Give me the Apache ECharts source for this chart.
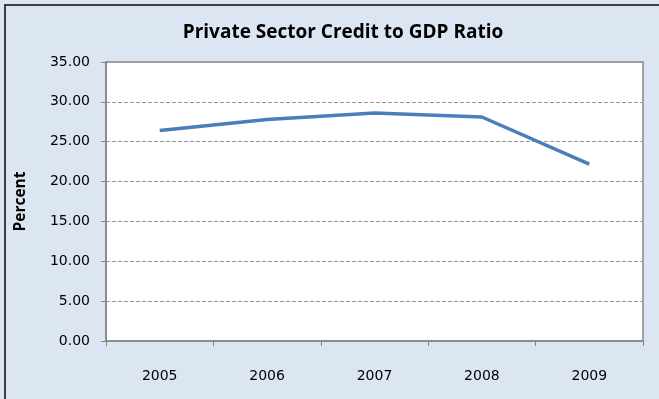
<!DOCTYPE html>
<html>
<head>
<meta charset="utf-8">
<script src="https://cdn.jsdelivr.net/npm/echarts@6/dist/echarts.min.js"></script>
<style>
  html, body { margin: 0; padding: 0; background: #dce6f2; }
  #chart { width: 659px; height: 399px; }
</style>
</head>
<body>
<div id="chart"></div>
<script>
const years = ['2005', '2006', '2007', '2008', '2009']
const ratio = [26.4, 27.8, 28.6, 28.1, 22.2]
const yTicks = { min: 0, max: 35, interval: 5 }

const LABEL_FONT = '"DejaVu Sans", sans-serif'
const TITLE_FONT = '"Open Sans", sans-serif'
const chart = echarts.init(document.getElementById('chart'))

chart.setOption({
  backgroundColor: '#dce6f2',
  animation: false,
  title: {
    text: 'Private Sector Credit to GDP Ratio',
    left: 338,
    textAlign: 'center',
    top: 18,
    textStyle: { fontFamily: TITLE_FONT, fontSize: 19, fontWeight: 'bold', color: '#000' },
  },
  graphic: [
    {
      type: 'rect',
      shape: { x: 5, y: 5, width: 720, height: 460 },
      style: { fill: 'transparent', stroke: '#3f3f3f', lineWidth: 2 },
      silent: true,
    },
  ],
  grid: {
    left: 106, right: 16, top: 62, bottom: 58,
    show: true, backgroundColor: '#fff', borderColor: '#868686', borderWidth: 1.5,
  },
  xAxis: {
    type: 'category',
    data: years,
    boundaryGap: true,
    axisLine: { lineStyle: { color: '#868686', width: 1.5 } },
    axisTick: { show: true, length: 5, lineStyle: { color: '#868686' } },
    axisLabel: { color: '#000', fontFamily: LABEL_FONT, fontSize: 14, margin: 28 },
  },
  yAxis: {
    type: 'value',
    min: yTicks.min, max: yTicks.max, interval: yTicks.interval,
    name: 'Percent',
    nameLocation: 'middle',
    nameGap: 77,
    nameTextStyle: { fontFamily: TITLE_FONT, fontSize: 15.5, fontWeight: 'bold', color: '#000' },
    axisLine: { show: true, lineStyle: { color: '#868686', width: 1.5 } },
    axisTick: { show: true, length: 5, lineStyle: { color: '#868686' } },
    axisLabel: { color: '#000', fontFamily: LABEL_FONT, fontSize: 14, margin: 16, formatter: (v) => v.toFixed(2) },
    splitLine: { lineStyle: { color: '#9a9a9a', type: [4, 2], width: 1 } },
  },
  series: [
    {
      type: 'line',
      data: ratio,
      symbol: 'none',
      lineStyle: { color: '#4a7ebb', width: 3.5 },
    },
  ],
})
</script>
</body>
</html>
